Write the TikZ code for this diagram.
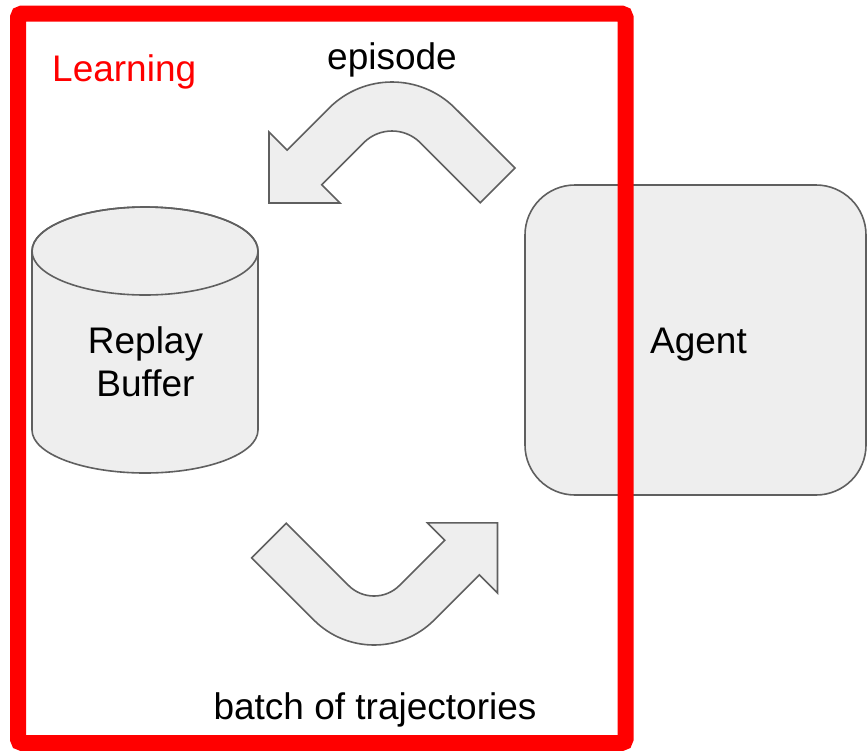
\documentclass[tikz,border=0pt]{standalone}
\usepackage{fontspec}
\setmainfont{Liberation Sans}
\definecolor{shapefill}{HTML}{EEEEEE}
\definecolor{shapeline}{HTML}{5F5F5F}
\definecolor{framered}{HTML}{FF0000}
\begin{document}
\begin{tikzpicture}[x=1pt,y=-1pt,
  shapebox/.style={fill=shapefill,draw=shapeline,line width=1.6pt},
  lbl/.style={inner sep=0pt,anchor=base,font=\fontsize{37}{43}\selectfont},
  frame/.style={draw=framered,line width=16pt,rounded corners=4pt}]
\useasboundingbox (0,0) rectangle (867,750);
% Agent box
\node[shapebox,rounded corners=50pt,minimum width=341pt,minimum height=310pt,inner sep=0pt] (agent) at (695.5,340) {};
\node[lbl] (agentlbl) at (698.5,353) {Agent};
% Replay buffer cylinder
\path[shapebox] (32,251) -- (32,430) arc[start angle=180,end angle=0,x radius=113,y radius=43]
  -- (258,251) arc[start angle=0,end angle=-180,x radius=113,y radius=44] -- cycle;
\draw[shapeline,line width=1.6pt] (145,251) ellipse[x radius=113,y radius=44];
\node[lbl] (replay) at (145.5,353) {Replay};
\node[lbl] (buffer) at (145.5,396) {Buffer};
% top curved arrow (episode)
\path[shapebox] (515,168) -- (454.93,108.07) arc[start angle=-45,end angle=-135,radius=89]
  -- (287.07,150.07) -- (269,132) -- (269,203) -- (340,203) -- (321.7,184.7)
  -- (363.72,142.72) arc[start angle=-135,end angle=-45,radius=40] -- (480.3,202.7) -- cycle;
% bottom curved arrow (batch)
\path[shapebox] (251.7,557.9) -- (313.9,620.1) arc[start angle=135,end angle=45,radius=85]
  -- (479.4,574.8) -- (497.5,592.9) -- (497.5,522.9) -- (427.5,522.9) -- (444.75,540.15)
  -- (399.46,585.46) arc[start angle=45,end angle=135,radius=36] -- (286.35,523.25) -- cycle;
% labels
\node[lbl] (episode) at (392,69) {episode};
\node[lbl] (batch) at (375,719) {batch of trajectories};
% Learning frame
\draw[frame] (18,13.5) rectangle (625.5,743);
\node[lbl,anchor=base west,text=framered] (learning) at (52,81) {Learning};
\end{tikzpicture}
\end{document}
